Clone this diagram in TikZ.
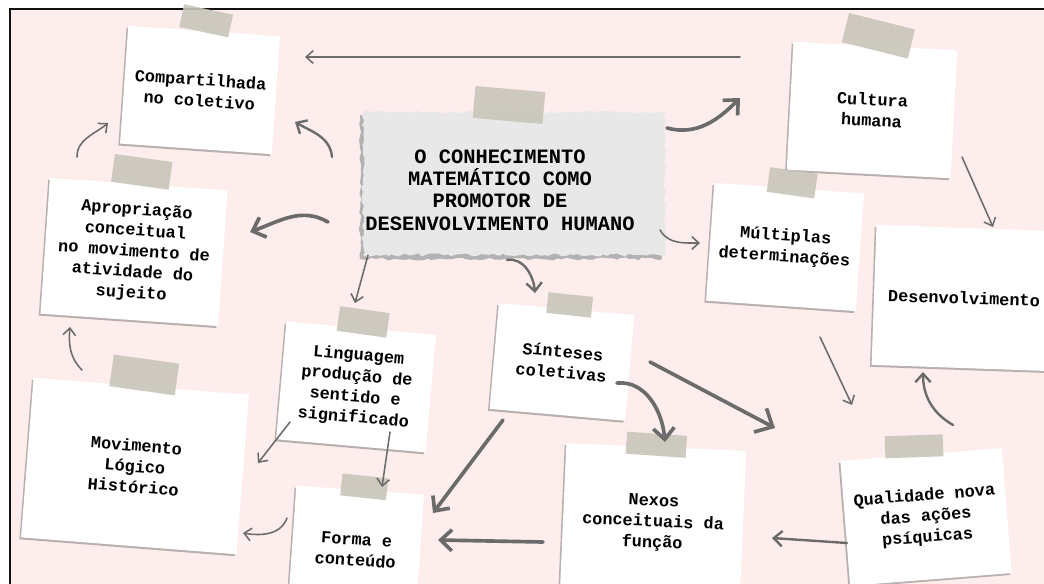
\documentclass[tikz,border=0pt]{standalone}
\usepackage{fontspec}
\setmonofont{Liberation Mono}
\usepackage{xcolor}
\usepackage{tikz}
\usetikzlibrary{arrows.meta,positioning,shadows,decorations.pathmorphing}
\definecolor{wall}{HTML}{FDEDEC}
\definecolor{ink}{HTML}{6B6B6B}
\definecolor{tapegray}{HTML}{C8C6BA}
\definecolor{scrap}{HTML}{E8E8E8}
\definecolor{frame}{HTML}{111111}
\tikzset{
  card/.style={fill=white, inner sep=2pt, align=center, text=black,
    font=\ttfamily\bfseries\fontsize{12}{14.8}\selectfont,
    drop shadow={shadow xshift=-1.2pt, shadow yshift=-1.4pt, opacity=.45, fill=black!60}},
  tapestrip/.style={fill=tapegray, fill opacity=.9, inner sep=0pt},
  title/.style={align=center, text=black, font=\ttfamily\bfseries\fontsize{14.5}{15.8}\selectfont},
  link/.style={draw=ink, line width=1.1pt, line cap=round, -{Straight Barb[length=5pt,width=9pt]}},
  linkm/.style={link, line width=1.7pt, -{Straight Barb[length=6pt,width=11pt]}},
  linkb/.style={link, line width=2.6pt, -{Straight Barb[length=8pt,width=15pt]}},
}

\begin{document}
\begin{tikzpicture}[x=0.025cm, y=-0.025cm]
\useasboundingbox (0,0) rectangle (1044,584);
\fill[wall] (10,9) rectangle (1044,584);
\draw[frame, line width=1.5pt] (10,584) -- (10,9) -- (1044,9);

% torn scrap behind the title
\fill[black!30, decorate, decoration={random steps,segment length=3pt,amplitude=1pt}] (360,115) rectangle (662,259);
\fill[scrap, decorate, decoration={random steps,segment length=3pt,amplitude=1.2pt}] (363,112) rectangle (665,255);
\node[title] (central) at (500,190) {O CONHECIMENTO\\MATEMÁTICO COMO\\PROMOTOR DE\\DESENVOLVIMENTO HUMANO};

% cards
\node[card, rotate=-4, minimum width=3.8cm, minimum height=2.95cm] (comp) at (200,90) {Compartilhada\\no coletivo};
\node[card, rotate=-3, minimum width=4.1cm, minimum height=3.2cm] (cultura) at (872,110) {Cultura\\humana};
\node[card, rotate=-4, minimum width=3.75cm, minimum height=2.95cm] (mult) at (785,247) {Múltiplas\\determinações};
\node[card, rotate=-2, minimum width=4.5cm, minimum height=3.5cm] (desenv) at (964,298) {Desenvolvimento};
\node[card, rotate=-4, minimum width=4.45cm, minimum height=3.4cm] (aprop) at (134,252) {Apropriação\\conceitual\\no movimento de\\atividade do\\sujeito};
\node[card, rotate=-4.5, minimum width=5.4cm, minimum height=4cm] (movim) at (135,466) {Movimento\\Lógico\\Histórico};
\node[card, rotate=-5, minimum width=3.75cm, minimum height=2.95cm] (ling) at (356,387) {Linguagem\\produção de\\sentido e\\significado};
\node[card, rotate=-4, minimum width=3.2cm, minimum height=3cm] (forma) at (356,550) {Forma e\\conteúdo};
\node[card, rotate=-5, minimum width=3.4cm, minimum height=2.65cm] (sint) at (562,362) {Sínteses\\coletivas};
\node[card, rotate=-2.5, minimum width=4.5cm, minimum height=3.8cm] (nexos) at (653,523) {Nexos\\conceituais da\\função};
\node[card, rotate=4.5, minimum width=4.05cm, minimum height=3.13cm] (qual) at (926,517) {Qualidade nova\\das ações\\psíquicas};

% tape strips
\node[tapestrip, rotate=-12, minimum width=1.25cm, minimum height=0.58cm] (tcomp) at ([shift={(2,-10)}]comp.north) {};
\node[tapestrip, rotate=-5, minimum width=1.75cm, minimum height=0.8cm] (tcentral) at ([shift={(9,-85)}]central.center) {};
\node[tapestrip, rotate=-14, minimum width=1.7cm, minimum height=0.75cm] (tcultura) at ([shift={(3,-10)}]cultura.north) {};
\node[tapestrip, rotate=-8, minimum width=1.2cm, minimum height=0.62cm] (tmult) at ([shift={(3,-5)}]mult.north) {};
\node[tapestrip, rotate=-8, minimum width=1.45cm, minimum height=0.7cm] (taprop) at ([shift={(3,-12)}]aprop.north) {};
\node[tapestrip, rotate=-8, minimum width=1.65cm, minimum height=0.8cm] (tmovim) at ([shift={(3,-11)}]movim.north) {};
\node[tapestrip, rotate=-8, minimum width=1.25cm, minimum height=0.62cm] (tling) at ([shift={(2,-6)}]ling.north) {};
\node[tapestrip, rotate=-6, minimum width=1.15cm, minimum height=0.55cm] (tforma) at ([shift={(4,-3)}]forma.north) {};
\node[tapestrip, rotate=-6, minimum width=1.12cm, minimum height=0.52cm] (tsint) at ([shift={(3,-4)}]sint.north) {};
\node[tapestrip, rotate=-4, minimum width=1.5cm, minimum height=0.55cm] (tnexos) at ([shift={(0,-2)}]nexos.north) {};
\node[tapestrip, rotate=2, minimum width=1.45cm, minimum height=0.55cm] (tqual) at ([shift={(-7,-8)}]qual.north) {};

% connectors
\draw[link] ([shift={(-132,-53)}]cultura.center) -- ([shift={(105,-33)}]comp.center);
\draw[linkb] ([shift={(167,-62)}]central.center) to[out=-15,in=-135] ([shift={(-132,-12)}]cultura.center);
\draw[link] ([shift={(160,40)}]central.center) to[out=-60,in=180] ([shift={(-85,-4)}]mult.center);
\draw[linkm] ([shift={(-168,-33)}]central.center) to[out=95,in=-30] ([shift={(95,32)}]comp.center);
\draw[linkb] ([shift={(-172,32)}]central.center) to[out=150,in=20] ([shift={(116,-20)}]aprop.center);
\draw[link] ([shift={(-132,65)}]central.center) -- ([shift={(-1,-84)}]ling.center);
\draw[linkm] ([shift={(7,70)}]central.center) to[out=10,in=95] ([shift={(-27,-69)}]sint.center);
\draw[link] ([shift={(-57,-95)}]aprop.center) to[out=90,in=-140] ([shift={(-92,33)}]comp.center);
\draw[link] ([shift={(-53,-96)}]movim.center) to[out=135,in=-95] ([shift={(-64,75)}]aprop.center);
\draw[link] ([shift={(-66,35)}]ling.center) -- ([shift={(123,-3)}]movim.center);
\draw[link] ([shift={(34,45)}]ling.center) -- ([shift={(26,-63)}]forma.center);
\draw[link] ([shift={(-69,-32)}]forma.center) to[out=-110,in=-10] ([shift={(108,67)}]movim.center);
\draw[linkb] ([shift={(-59,58)}]sint.center) -- ([shift={(77,-37)}]forma.center);
\draw[linkb] ([shift={(-110,19)}]nexos.center) -- ([shift={(82,-10)}]forma.center);
\draw[linkb] ([shift={(55,21)}]sint.center) to[out=5,in=95] ([shift={(12,-81)}]nexos.center);
\draw[linkb, -{Straight Barb[length=10pt,width=19pt]}] ([shift={(88,0)}]sint.center) -- ([shift={(-151,-89)}]qual.center);
\draw[link] ([shift={(90,47)}]cultura.center) -- ([shift={(29,-71)}]desenv.center);
\draw[link] ([shift={(35,90)}]mult.center) -- ([shift={(-74,-112)}]qual.center);
\draw[linkm] ([shift={(27,-92)}]qual.center) to[out=150,in=-90] ([shift={(-41,74)}]desenv.center);
\draw[linkm] ([shift={(-79,26)}]qual.center) -- ([shift={(119,15)}]nexos.center);
\end{tikzpicture}
\end{document}
